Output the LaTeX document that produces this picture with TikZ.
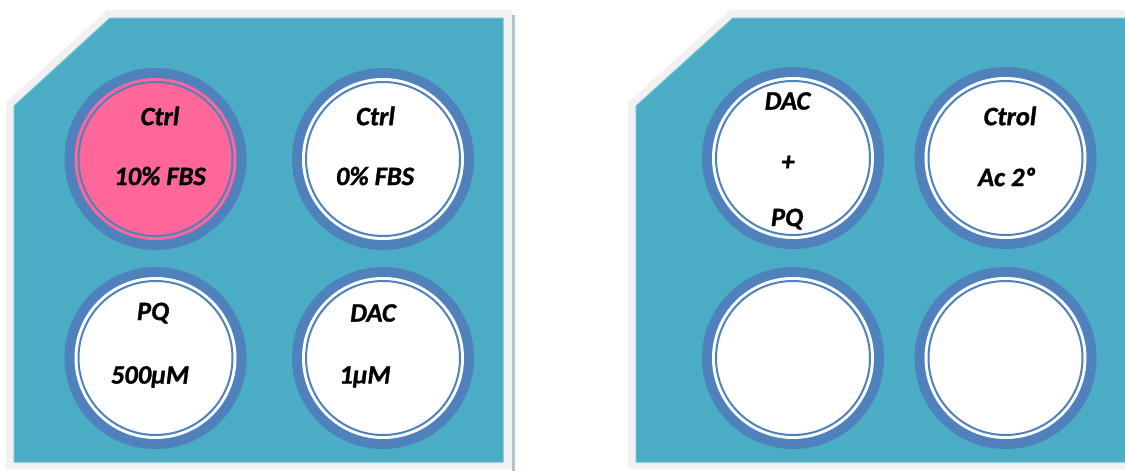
\documentclass[tikz,border=0pt]{standalone}
\usepackage{fontspec}
\setmainfont{Carlito}[BoldItalicFeatures={FakeBold=1.2}]
\definecolor{plate}{HTML}{4BACC6}
\definecolor{plateedge}{HTML}{6CC0D6}
\definecolor{ringblue}{HTML}{4F81BD}
\definecolor{wellpink}{HTML}{FF6699}
\definecolor{rimgrey}{HTML}{F1F1F1}
\definecolor{shadowc}{HTML}{B2C4CA}
\begin{document}
\begin{tikzpicture}[x=1pt,y=-1pt,
  well/.style={circle, fill=ringblue, minimum size=182pt, inner sep=0pt,
    path picture={
      \fill[#1] (path picture bounding box.center) circle (81pt);
      \draw[ringblue, line width=2pt] (path picture bounding box.center) circle (77pt);
    }},
  well/.default=white,
  lbl/.style={inner sep=0pt, font=\fontsize{26.5}{30}\selectfont\bfseries\itshape}
]
\useasboundingbox (0,0) rectangle (1125,471);
% left plate
\fill[rimgrey] (6,102.5) -- (107,10) -- (512,10) -- (512,469) -- (6,469) -- cycle;
\filldraw[fill=plate, draw=plateedge, line width=1pt] (14,106) -- (110,18) -- (503,18) -- (503,462) -- (14,462) -- cycle;
\draw[shadowc, line width=3pt] (513.5,15) -- (513.5,471);
% right plate
\fill[rimgrey] (628,102.5) -- (730,10) -- (1125,10) -- (1125,469) -- (628,469) -- cycle;
\filldraw[fill=plate, draw=plateedge, line width=1pt] (636,106) -- (733,18) -- (1126,18) -- (1126,462) -- (636,462) -- cycle;
% wells left plate
\node[well=wellpink] (w11) at (155.5,159) {};
\node[well] (w12) at (383,159) {};
\node[well] (w21) at (155.5,358) {};
\node[well] (w22) at (383,358) {};
% wells right plate
\node[well] (r11) at (793,158) {};
\node[well] (r12) at (1005.5,158) {};
\node[well] (r21) at (793,358) {};
\node[well] (r22) at (1005.5,358) {};
% labels
\node[lbl] (t11a) at (160,116) {Ctrl};
\node[lbl] (t11b) at (160,176) {10\% FBS};
\node[lbl] (t12a) at (375.5,116) {Ctrl};
\node[lbl] (t12b) at (375,176) {0\% FBS};
\node[lbl] (t21a) at (153,313) {PQ};
\node[lbl] (t21b) at (150,377) {500µM};
\node[lbl] (t22a) at (373,313) {DAC};
\node[lbl] (t22b) at (365,377) {1µM};
\node[lbl] (r11a) at (787.5,101) {DAC};
\node[lbl] (r11b) at (788,163) {+};
\node[lbl] (r11c) at (787,219) {PQ};
\node[lbl] (r12a) at (1010,116) {Ctrol};
\node[lbl] (r12b) at (1007,177) {Ac 2º};
\end{tikzpicture}
\end{document}
